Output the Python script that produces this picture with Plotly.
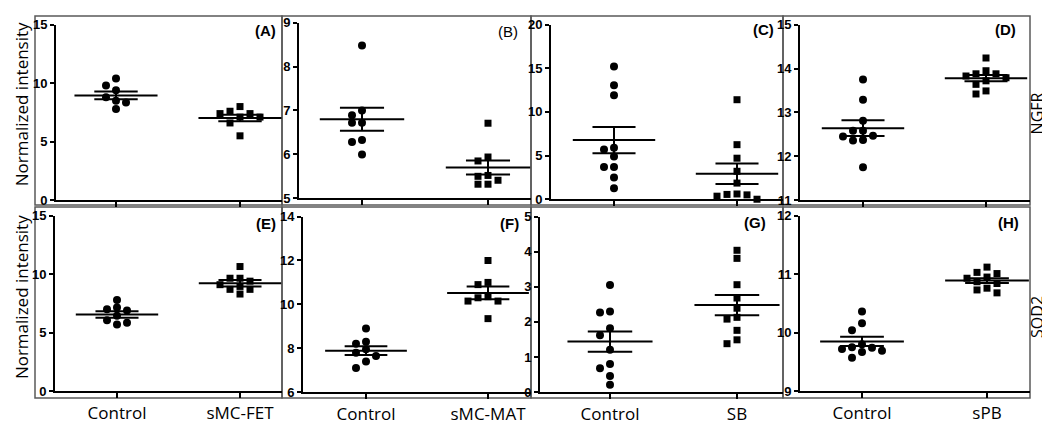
import plotly.graph_objects as go

# ---------------- data ----------------
control_label = "Control"
treatment_labels = ["sMC-FET", "sMC-MAT", "SB", "sPB"]
panel_letters = ["(A)", "(B)", "(C)", "(D)", "(E)", "(F)", "(G)", "(H)"]
row_genes = ["NGFR", "SOD2"]
y_title = "Normalized intensity"

# NGFR row
A_control = [10.4, 9.8, 9.4, 8.8, 8.5, 8.35, 7.8]
A_treat = [8.0, 7.6, 7.4, 7.4, 7.1, 7.1, 6.6, 5.5]
B_control = [8.48, 7.0, 6.89, 6.72, 6.72, 6.33, 6.28, 6.0]
B_treat = [6.71, 5.94, 5.85, 5.52, 5.5, 5.41, 5.32, 5.32]
C_control = [15.2, 13.05, 11.9, 5.9, 5.7, 4.9, 3.7, 3.7, 2.5, 1.25]
C_treat = [11.4, 6.25, 4.7, 3.2, 1.85, 0.6, 0.55, 0.5, 0.35, 0.0]
D_control = [13.75, 13.29, 12.81, 12.58, 12.58, 12.47, 12.45, 12.37, 12.36, 11.75]
D_treat = [14.24, 13.95, 13.88, 13.88, 13.83, 13.79, 13.72, 13.64, 13.49, 13.42]
# SOD2 row
E_control = [7.8, 7.15, 7.0, 6.9, 6.45, 6.05, 5.85, 5.7]
E_treat = [10.65, 9.65, 9.65, 9.4, 9.1, 8.95, 8.7, 8.7, 8.3]
F_control = [8.9, 8.3, 8.2, 7.95, 7.8, 7.65, 7.4, 7.1]
F_treat = [12.0, 11.0, 10.9, 10.35, 10.3, 10.15, 10.15, 9.35]
G_control = [3.05, 2.3, 2.27, 1.82, 1.62, 1.21, 0.8, 0.68, 0.46, 0.21]
G_treat = [4.04, 3.81, 3.06, 2.68, 2.39, 2.13, 2.08, 1.76, 1.49, 1.38]
H_control = [10.36, 10.16, 10.04, 9.8, 9.75, 9.74, 9.72, 9.69, 9.67, 9.57]
H_treat = [11.12, 11.03, 11.01, 10.95, 10.93, 10.87, 10.84, 10.76, 10.73, 10.68]

# mean and SEM: [control, treatment]
means = [[8.95, 7.02], [6.80, 5.70], [6.78, 2.92], [12.64, 13.78],
         [6.55, 9.22], [7.89, 10.52], [1.44, 2.48], [9.85, 10.89]]
sems = [[0.33, 0.28], [0.26, 0.16], [1.50, 1.17], [0.18, 0.07],
        [0.27, 0.28], [0.20, 0.29], [0.29, 0.29], [0.08, 0.04]]

y_ranges = [[0, 15], [5, 9], [0, 20], [11, 15], [0, 15], [6, 14], [0, 5], [9, 12]]
y_dticks = [5, 1, 5, 1, 5, 2, 1, 1]

controls = [A_control, B_control, C_control, D_control, E_control, F_control, G_control, H_control]
treats = [A_treat, B_treat, C_treat, D_treat, E_treat, F_treat, G_treat, H_treat]

# ---------------- layout geometry (pixels) ----------------
W, H = 1050, 423
# (y-axis x, category0 x, category1 x, right end x, top y, bottom y)
geom = [
    (48, 108, 232, 274, 10, 192),
    (291, 354, 480, 523, 8, 190),
    (543, 606, 729, 775, 10, 191),
    (792, 855, 978, 1022, 10, 192),
    (47, 109, 232, 274, 208, 390),
    (295, 358, 480, 523, 209, 391),
    (532, 602, 729, 775, 209, 391),
    (792, 854, 979, 1022, 208, 390),
]
frames = [(27, 1, 274, 197), (274, 1, 523, 197), (523, 1, 775, 197), (775, 1, 1022, 197),
          (27, 199, 274, 397), (274, 199, 523, 397), (523, 199, 775, 397), (775, 199, 1022, 397)]
letter_pos = [(270, 16), (512, 17), (768, 15), (1010, 15), (270, 216), (513, 216), (760, 215), (1013, 215)]

MEAN_HW = 0.335
SEM_HW = 0.175
STEP_PX = 10.0
MIN_SEP = 7.5


def swarm(values, ppu_y, ppu_x):
    placed = []
    offs = []
    order = [0]
    for k in range(1, 8):
        order += [-k, k]
    for v in values:
        yp = v * ppu_y
        for k in order:
            if all(not (c == k and abs(p - yp) < MIN_SEP) for c, p in placed):
                break
        placed.append((k, yp))
        offs.append(k * STEP_PX / ppu_x)
    return offs


fig = go.Figure()
layout = dict(
    width=W, height=H, margin=dict(l=0, r=0, t=0, b=0),
    paper_bgcolor="white", plot_bgcolor="white", showlegend=False,
)
annotations = []
shapes = []

for i in range(8):
    ax_x, c0, c1, rx, ty, by = geom[i]
    ppu_x = c1 - c0
    xr = [(ax_x - c0) / ppu_x, (rx - c0) / ppu_x]
    yr = y_ranges[i]
    ppu_y = (by - ty) / (yr[1] - yr[0])
    xa = "x" if i == 0 else f"x{i+1}"
    ya = "y" if i == 0 else f"y{i+1}"
    xk = "xaxis" if i == 0 else f"xaxis{i+1}"
    yk = "yaxis" if i == 0 else f"yaxis{i+1}"
    bottom = i >= 4

    for gi, (vals, sym) in enumerate([(controls[i], "circle"), (treats[i], "square")]):
        offs = swarm(vals, ppu_y, ppu_x)
        fig.add_trace(go.Scatter(
            x=[gi + o for o in offs], y=vals, mode="markers", xaxis=xa, yaxis=ya,
            marker=dict(symbol=sym, size=8 if sym == "circle" else 7, color="black",
                        line=dict(width=0)),
            cliponaxis=False, hoverinfo="skip"))
        m = means[i][gi]
        s = sems[i][gi]
        lx = [gi - MEAN_HW, gi + MEAN_HW, None,
              gi - SEM_HW, gi + SEM_HW, None,
              gi - SEM_HW, gi + SEM_HW, None,
              gi, gi]
        ly = [m, m, None, m + s, m + s, None, m - s, m - s, None, m - s, m + s]
        fig.add_trace(go.Scatter(x=lx, y=ly, mode="lines", xaxis=xa, yaxis=ya,
                                 line=dict(color="black", width=2), cliponaxis=False,
                                 hoverinfo="skip"))

    layout[xk] = dict(
        domain=[ax_x / W, rx / W], range=xr, anchor=ya,
        showline=True, linecolor="black", linewidth=2, showgrid=False, zeroline=False,
        ticks="outside", ticklen=5, tickwidth=1.5, tickcolor="black",
        tickvals=[0, 1], ticktext=[control_label, treatment_labels[i % 4]],
        showticklabels=bottom,
        tickfont=dict(family="Open Sans", size=17, color="black"),
    )
    layout[yk] = dict(
        domain=[(H - by) / H, (H - ty) / H], range=yr, anchor=xa,
        showline=True, linecolor="black", linewidth=2, showgrid=False, zeroline=False,
        ticks="outside", ticklen=4, tickwidth=1.5, tickcolor="black",
        tick0=yr[0], dtick=y_dticks[i],
        tickfont=dict(family="Liberation Sans Narrow, Liberation Sans", size=13,
                      color="black", weight="bold"),
    )
    fx0, fy0, fx1, fy1 = frames[i]
    shapes.append(dict(type="rect", xref="paper", yref="paper",
                       x0=fx0 / W, x1=fx1 / W, y0=1 - fy1 / H, y1=1 - fy0 / H,
                       line=dict(color="#5a5a5a", width=1.5), layer="below"))
    lx_, ly_ = letter_pos[i]
    annotations.append(dict(
        text=panel_letters[i], xref="paper", yref="paper", x=lx_ / W, y=1 - ly_ / H,
        xanchor="right", yanchor="middle", showarrow=False,
        font=dict(family="Liberation Sans", size=15, color="black",
                  weight="normal" if i == 1 else "bold")))

for r, (cy, gy) in enumerate([(93, 102), (293, 313)]):
    annotations.append(dict(
        text=y_title, xref="paper", yref="paper", x=0, y=1 - cy / H,
        xanchor="left", yanchor="middle", textangle=-90, showarrow=False,
        font=dict(family="Open Sans", size=17, color="black")))
    annotations.append(dict(
        text=row_genes[r], xref="paper", yref="paper", x=1029 / W, y=1 - gy / H,
        xanchor="center", yanchor="middle", textangle=-90, showarrow=False,
        font=dict(family="Open Sans", size=16, color="black")))

layout["annotations"] = annotations
layout["shapes"] = shapes
fig.update_layout(**layout)
fig.write_html("out.html")
